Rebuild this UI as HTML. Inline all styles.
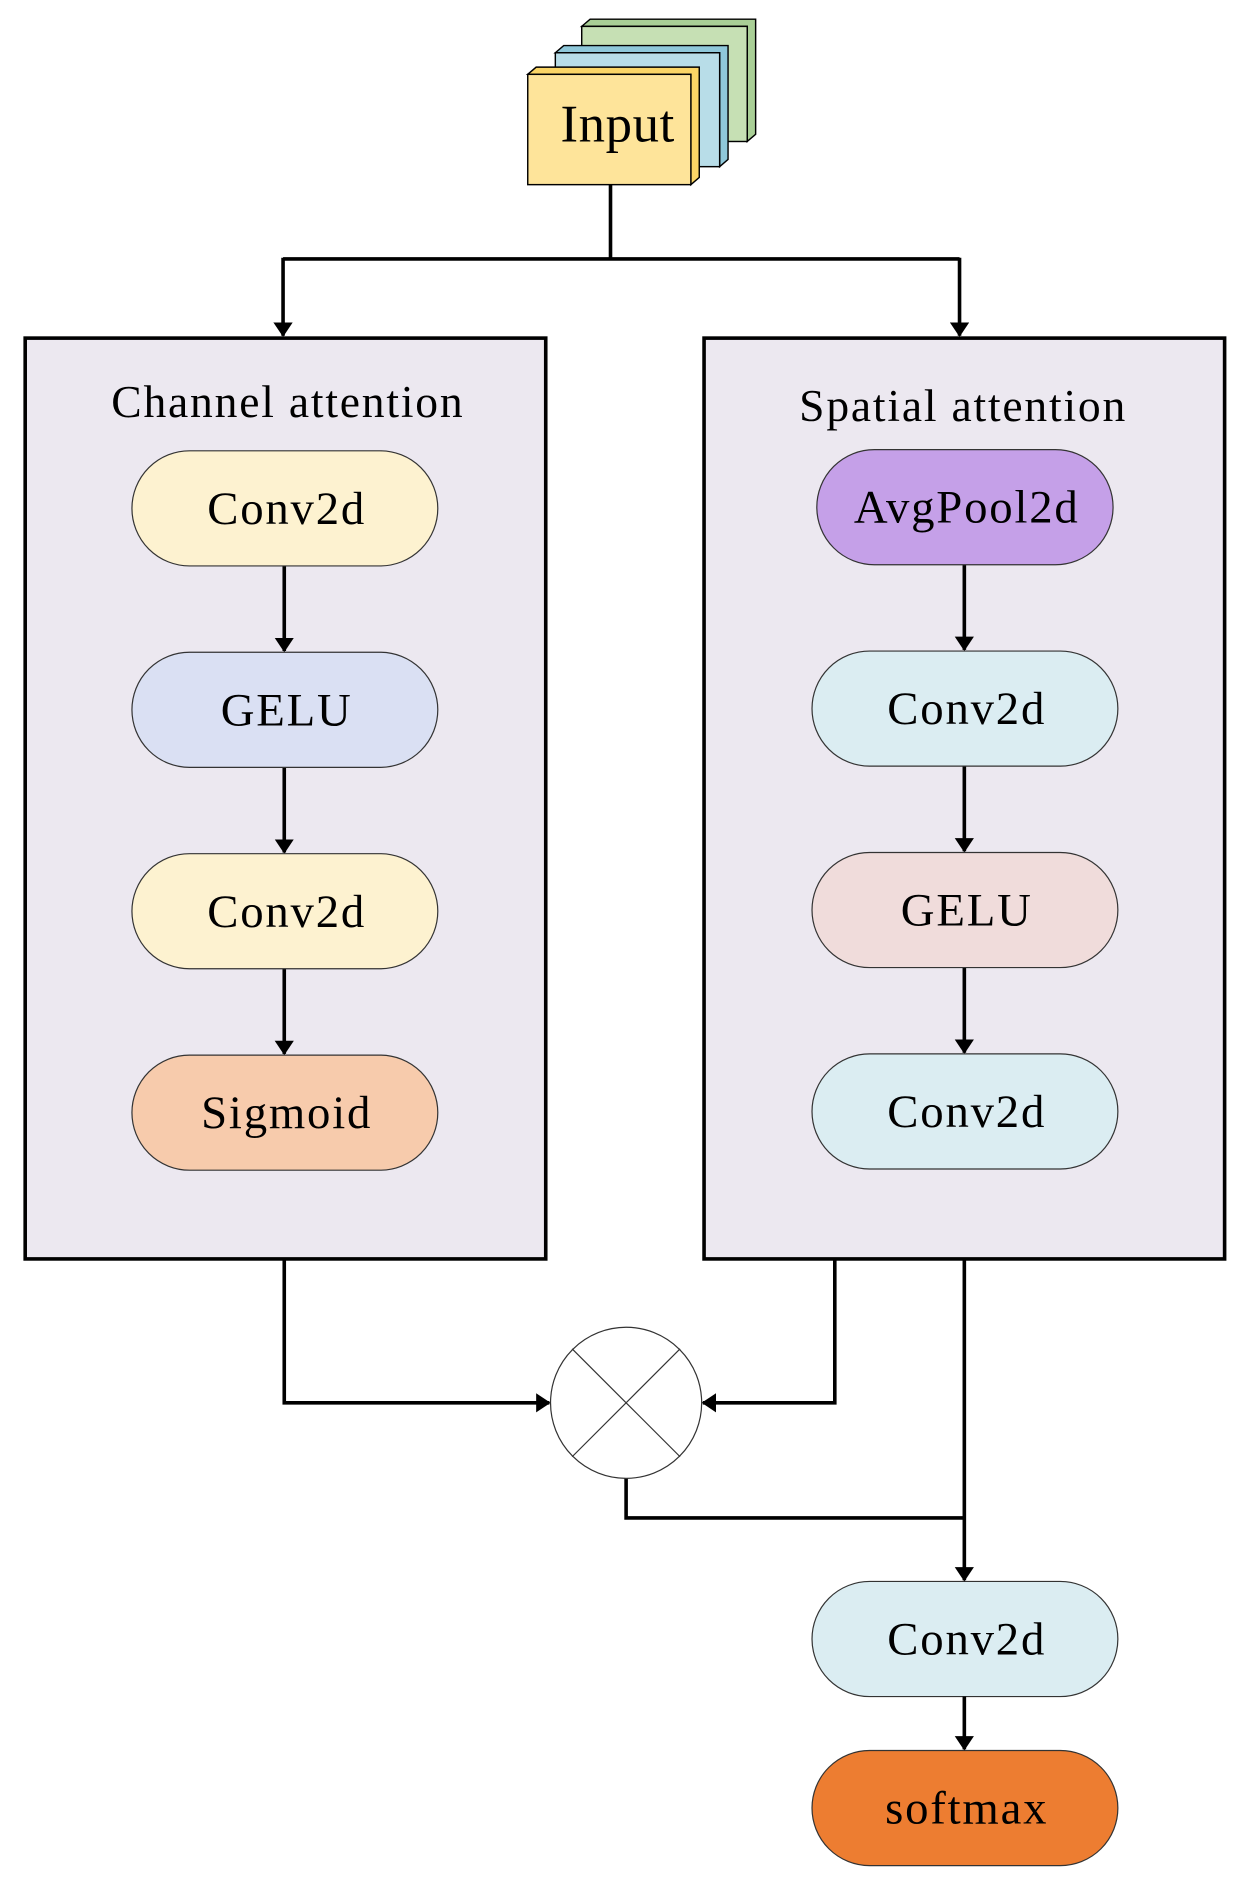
<!DOCTYPE html>
<html><head><meta charset="utf-8"><style>html,body{margin:0;padding:0;background:#fff}svg{display:block}</style></head><body>
<svg width="1245" height="1880" viewBox="0 0 1038 1568" preserveAspectRatio="none" xmlns="http://www.w3.org/2000/svg" font-family="Liberation Serif, serif">
<defs>
<marker id="b" viewBox="0 0 12 16" refX="11" refY="8" markerWidth="12" markerHeight="16" orient="auto" markerUnits="userSpaceOnUse"><path d="M0,0L12,8L0,16z" fill="#000"/></marker></defs>
<!-- input stack -->
<g stroke="#000" stroke-width="1.2">
<polygon points="485,22 492,16 630,16 630,112 623,118 623,22" fill="#a9cf96"/>
<rect x="485" y="22" width="138" height="96" fill="#c6e0b4"/>
<polygon points="463,44 470,38 607,38 607,133 600,139 600,44" fill="#8fc8da"/>
<rect x="463" y="44" width="137" height="95" fill="#b8dde8"/>
<polygon points="440,62 447,56 583,56 583,148 576,154 576,62" fill="#fbd566"/>
<rect x="440" y="62" width="136" height="92" fill="#fee49a"/>
</g>
<text x="515" y="118" font-size="44" text-anchor="middle" letter-spacing="0.5">Input</text>
<!-- connectors -->
<g stroke="#000" stroke-width="3" fill="none">
<path d="M509,154V216"/><path d="M236,216H800"/>
<path d="M236,215V280" marker-end="url(#b)"/><path d="M800,215V280" marker-end="url(#b)"/>
</g>
<!-- panels -->
<rect x="21" y="282" width="434" height="768" fill="#ece8f0" stroke="#000" stroke-width="3"/>
<rect x="587" y="282" width="434" height="768" fill="#ece8f0" stroke="#000" stroke-width="3"/>
<text x="240" y="348" font-size="38" text-anchor="middle" letter-spacing="1.5">Channel attention</text>
<text x="803" y="351" font-size="38" text-anchor="middle" letter-spacing="1.5">Spatial attention</text>
<g stroke="#000" stroke-width="3" fill="none">
<path d="M237,472V543" marker-end="url(#b)"/><path d="M237,640V711" marker-end="url(#b)"/><path d="M237,808V879" marker-end="url(#b)"/>
<path d="M804,471V542" marker-end="url(#b)"/><path d="M804,639V710" marker-end="url(#b)"/><path d="M804,807V878" marker-end="url(#b)"/>
</g>
<g stroke="#333" stroke-width="1">
<rect x="110" y="376" width="255" height="96" rx="48" fill="#fdf2d0"/>
<rect x="110" y="544" width="255" height="96" rx="48" fill="#dae0f3"/>
<rect x="110" y="712" width="255" height="96" rx="48" fill="#fdf2d0"/>
<rect x="110" y="880" width="255" height="96" rx="48" fill="#f7cbac"/>
<rect x="681" y="375" width="247" height="96" rx="48" fill="#c5a0e8"/>
<rect x="677" y="543" width="255" height="96" rx="48" fill="#dbedf2"/>
<rect x="677" y="711" width="255" height="96" rx="48" fill="#f0dcdb"/>
<rect x="677" y="879" width="255" height="96" rx="48" fill="#dbedf2"/>
<rect x="677" y="1319" width="255" height="96" rx="48" fill="#dbedf2"/>
<rect x="677" y="1460" width="255" height="96" rx="48" fill="#ed7d31"/>
</g>
<g font-size="39" text-anchor="middle" letter-spacing="1.5">
<text x="239" y="437">Conv2d</text>
<text x="239" y="605">GELU</text>
<text x="239" y="773">Conv2d</text>
<text x="239" y="941">Sigmoid</text>
<text x="806" y="436">AvgPool2d</text>
<text x="806" y="604">Conv2d</text>
<text x="806" y="772">GELU</text>
<text x="806" y="940">Conv2d</text>
<text x="806" y="1380">Conv2d</text>
<text x="806" y="1521">softmax</text>
</g>
<!-- bottom connectors -->
<g stroke="#000" stroke-width="3" fill="none">
<path d="M237,1050V1170H458" marker-end="url(#b)"/>
<path d="M696,1050V1170H586" marker-end="url(#b)"/>
<path d="M804,1050V1318" marker-end="url(#b)"/>
<path d="M522,1233V1266H804"/>
<path d="M804,1415V1459" marker-end="url(#b)"/>
</g>
<circle cx="522" cy="1170" r="63" fill="#fff" stroke="#333" stroke-width="1"/>
<path d="M477,1125L567,1215M567,1125L477,1215" stroke="#333" stroke-width="1"/>
</svg>
</body></html>
